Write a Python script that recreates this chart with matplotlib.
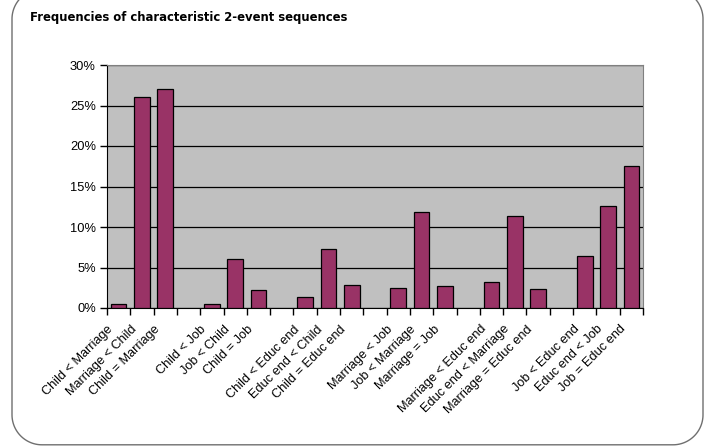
import numpy as np
import matplotlib.pyplot as plt
from matplotlib.lines import Line2D
from matplotlib.ticker import FuncFormatter, MultipleLocator

# sequence labels, blank slots separate the event pairs
labels = [
    'Child < Marriage', 'Marriage < Child', 'Child = Marriage', '',
    'Child < Job', 'Job < Child', 'Child = Job', '',
    'Child < Educ end', 'Educ end < Child', 'Child = Educ end', '',
    'Marriage < Job', 'Job < Marriage', 'Marriage = Job', '',
    'Marriage < Educ end', 'Educ end < Marriage', 'Marriage = Educ end', '',
    'Job < Educ end', 'Educ end < Job', 'Job = Educ end',
]
# frequencies in percent (None = gap)
freq = [
    0.55, 26.0, 27.0, None,
    0.5, 6.05, 2.2, None,
    1.3, 7.25, 2.9, None,
    2.5, 11.8, 2.75, None,
    3.25, 11.4, 2.4, None,
    6.4, 12.55, 17.5,
]

W, H = 713, 446
fig = plt.figure(figsize=(W / 100, H / 100), dpi=100)

# rounded frame (inches); open at the top, which runs off the page
x0, x1, y0, y1, r = 0.12, 7.03, 0.012, 4.57, 0.3
def arc(cx, cy, a0, a1):
    t = np.radians(np.linspace(a0, a1, 30))
    return cx + r * np.cos(t), cy + r * np.sin(t)
parts = [arc(x0 + r, y1 - r, 90, 180), arc(x0 + r, y0 + r, 180, 270),
         arc(x1 - r, y0 + r, 270, 360), arc(x1 - r, y1 - r, 0, 90)]
fx = np.concatenate([p[0] for p in parts])
fy = np.concatenate([p[1] for p in parts])
fig.lines.append(Line2D(fx, fy, transform=fig.dpi_scale_trans,
                        color='#6f6f6f', lw=1.0))

fig.text(30 / W, 1 - 17 / H, 'Frequencies of characteristic 2-event sequences',
         fontsize=8.4, fontweight='bold', family='DejaVu Sans', va='center')

ax = fig.add_axes([107 / W, 1 - 308 / H, (643 - 107) / W, (308 - 65) / H])
ax.set_facecolor('#c0c0c0')

x = np.arange(len(labels))
vals = np.array([np.nan if v is None else v for v in freq])
ax.bar(x, vals, width=0.67, color='#993366', edgecolor='black', linewidth=0.9,
       zorder=3)

ax.set_xlim(-0.5, len(labels) - 0.5)
ax.set_ylim(0, 30)
ax.yaxis.set_major_locator(MultipleLocator(5))
ax.yaxis.set_major_formatter(FuncFormatter(lambda v, p: f'{v:.0f}%'))
ax.yaxis.grid(True, color='black', lw=0.9, zorder=1)

# labels hang slightly left of the category centre
ax.set_xticks(x - 0.32)
ax.set_xticklabels(labels, rotation=45, ha='right', va='center',
                   rotation_mode='anchor', fontsize=9.2, family='Liberation Sans')
ax.set_xticks(np.arange(-0.5, len(labels)), minor=True)
ax.tick_params(axis='x', which='major', length=0, pad=14)
ax.tick_params(axis='x', which='minor', length=5, width=1, color='black',
               direction='out')
ax.tick_params(axis='y', length=5, width=1, color='black', direction='out',
               labelsize=9.3, pad=3)
for t in ax.get_yticklabels():
    t.set_family('Liberation Sans')

for side in ['top', 'right']:
    ax.spines[side].set_color('#808080')
ax.spines['left'].set_color('black')
ax.spines['bottom'].set_color('black')

fig.savefig('out.png', dpi=100)
